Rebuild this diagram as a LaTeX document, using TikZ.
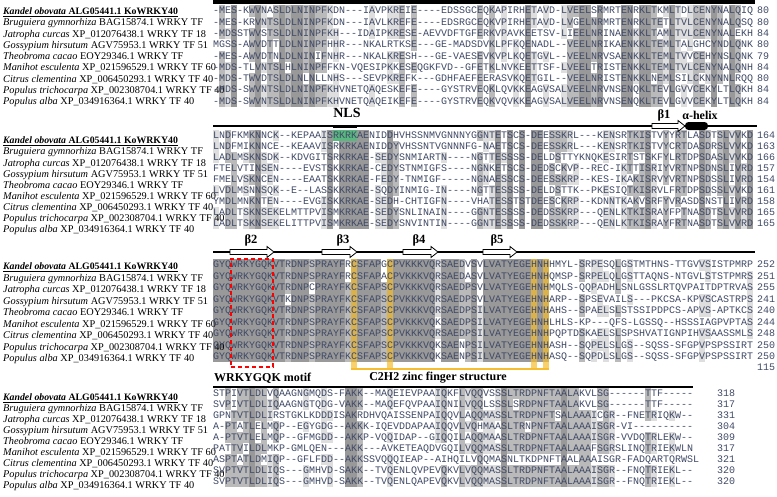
\documentclass[tikz,border=0pt]{standalone}
\usepackage{fontspec}
\setmainfont{Liberation Serif}
\newfontfamily\seqfont{Liberation Mono}[Ligatures=TeXOff]
\usetikzlibrary{positioning}

\definecolor{residue}{rgb}{0.25,0.29,0.40}
\definecolor{nlsgreen}{rgb}{0.35,0.72,0.50}
\definecolor{zincyellow}{rgb}{0.97,0.74,0.18}

\tikzset{
    %Define shading for conserved residues
    consfull/.style={fill=black!40},
    conshigh/.style={fill=black!27},
    conslow/.style={fill=black!13},
    %Define style for alignment text
    seqtext/.style={
           anchor=west,
           inner sep=0pt,
           text height=5.7pt,
           text depth=0pt,
           font=\seqfont\fontsize{10}{10}\selectfont,
           text=residue},
    species/.style={
           anchor=west,
           inner sep=0pt,
           text height=6.8pt,
           text depth=0pt,
           font=\fontsize{10.3}{11}\selectfont},
    kandel/.style={species, font=\fontsize{9.8}{11}\selectfont},
    featlabel/.style={
           inner sep=0pt,
           font=\bfseries\fontsize{12.5}{13}\selectfont},
    % Define styles for the secondary structure track
    rule/.style={line width=1.2pt},
    betashape/.style={draw=black, fill=white, line width=0.8pt},
    helix/.style={
           fill=black,
           rounded corners=3.5pt,
           minimum width=23pt,
           minimum height=8pt,
           inner sep=0pt},
    motifbox/.style={draw=red, line width=1.2pt, dash pattern=on 4pt off 3pt},
    zincband/.style={fill=zincyellow, fill opacity=0.7},
    zincline/.style={draw=zincyellow, line width=1.2pt}
}

% one shaded cell of the alignment
\newcommand\alcell[4]{\fill[#1] (#2pt,#3pt) rectangle ++(6pt,#4pt);}
% white block arrow for a beta strand: tail point, length in pt
\newcommand\betaarrow[2]{%
  \draw[betashape] (#1) ++(0,2.5pt) -- ++(#2pt-7pt,0) -- ++(0,3pt) -- ++(7pt,-5.5pt)
     -- ++(-7pt,-5.5pt) -- ++(0,3pt) -- ++(-#2pt+7pt,0) -- cycle;}

\ExplSyntaxOn
\int_new:N \l__al_n_int
\tl_new:N \l__al_c_tl
\tl_new:N \l__al_col_tl
\NewDocumentCommand \alrow { m m m } { \str_gset:cn { g__al_#1_#2_str } {#3} }
\NewDocumentCommand \alget { m m } { \str_use:c { g__al_#1_#2_str } }
% shade block #1 with #2 columns, top of first row #3, row pitch #4
\NewDocumentCommand \alshade { m m m m }
 {
  \int_step_variable:nNn {#2} \l__al_j_tl
   {
    \int_step_variable:nNn {9} \l__al_i_tl
     {
      \tl_set:Nx \l__al_c_tl
        { \exp_args:Nc \str_item:Nn { g__al_#1_\l__al_i_tl _str } { \l__al_j_tl } }
      \str_if_eq:eeF { \l__al_c_tl } { - }
       {
        \int_zero:N \l__al_n_int
        \int_step_variable:nNn {9} \l__al_k_tl
         {
          \str_if_eq:eeT
            { \exp_args:Nc \str_item:Nn { g__al_#1_\l__al_k_tl _str } { \l__al_j_tl } }
            { \l__al_c_tl }
            { \int_incr:N \l__al_n_int }
         }
        \tl_clear:N \l__al_col_tl
        \int_compare:nNnT { \l__al_n_int } > { 4 } { \tl_set:Nn \l__al_col_tl { conslow } }
        \int_compare:nNnT { \l__al_n_int } > { 6 } { \tl_set:Nn \l__al_col_tl { conshigh } }
        \int_compare:nNnT { \l__al_n_int } = { 9 } { \tl_set:Nn \l__al_col_tl { consfull } }
        \tl_if_empty:NF \l__al_col_tl
         {
          \use:e
           {
            \exp_not:N \alcell { \l__al_col_tl }
             { \fp_eval:n { 213 + (\l__al_j_tl - 1) * 6 } }
             { \fp_eval:n { -(#3 + (\l__al_i_tl - 1) * #4) } }
             { \fp_eval:n { -(#4) } }
           }
         }
       }
     }
   }
 }
\ExplSyntaxOff

% alignment, block 1
\alrow{1}{1}{-MES-KWVNASLDLNINPFKDN---IAVPKREIE----EDSSGCEQKAPIRHETAVD-LVEELSRMRTENRKLTKMLTDLCENYNALQIQ}
\alrow{1}{2}{-MES-KRVNTSLDLNINPFKDN---IAVLKREFE----EDSRGCEQKVPIRHETAVD-LVGELNRMRTENRKLTETLTVLCENYNALQSQ}
\alrow{1}{3}{-MDSSTWVSTSLDLNINPFKH---IDAIPKRESE-AEVVDFTGFERKVPAVKEETSV-LIEELNRINAENKKLTAMLTVLCENYNALEKH}
\alrow{1}{4}{MGSS-AWVDTTLDLNINPFHHR---NKALRTKSE---GE-MADSDVKLPFKQENADL--VEELNRIKAENKKLTEMLTALGHCYNDLQNK}
\alrow{1}{5}{-MES-AWVDTNLDLNINIFNHR---NKALKRESH---GE-VAESEVKVPLKQETGVL--VEELNRVSAENKKLTEMLTVVCEHYNSLQNK}
\alrow{1}{6}{-MDS-TLVNTSLHLNINPFFKN-VQESIPKKESEQGKFVD--GFETKLNVKEETTSF-LVEELTRISTENKKLTEMLTVLCENYNALQNH}
\alrow{1}{7}{-MDS-TWVDTSLDLNLNLLNHS---SEVPKREFK---GDHFAEFEERASVKQETGIL--VEELNRISTENKKLNEMLSILCKNYNNLRQQ}
\alrow{1}{8}{-MDS-SWVNTSLDLNINPFKHVNETQAQESKEFE----GYSTRVEQKLQVKKEAGVSALVEELNRVNSENQKLTEVLGVVCEKYLTLQKH}
\alrow{1}{9}{-MDS-SWVNTSLDLNINPFKHVNETQAQEIKEFE----GYSTRVEQKVQVKKEAGVSALVEELNRVNSENQKLTEVLGVVCEKYLTLQKH}
% block 2
\alrow{2}{1}{LNDFKMKNNCK--KEPAAISRKRKAENIDDHVHSSNMVGNNNYGGNTETSCS-DEESSKRL---KENSRTKISTVYYRTLASDTSLVVKD}
\alrow{2}{2}{LNDFMIKNNCE--KEAAVISRKRKAENIDDYVHSSNTVGNNNFG-NAETSCS-DEESSKRL---KENSRTKISTVYCRTDASDRSLVVKD}
\alrow{2}{3}{LADLMSKNSDK--KDVGITSRKRKAE-SEDYSNMIARTN----NGTTESSSS-DELDSTTYKNQKESIRTSTSKFYLRTDPSDASLVVKD}
\alrow{2}{4}{FTELVTINSEN----EVSTSKKRKAE-CEDYSTNMIGFS----NGNKETSCS-DEDSCKVP--REC-IKTTISRIYVRTNPSDNSLIVRD}
\alrow{2}{5}{FMELVSKNCEN----EAATSKKRKAE-FEDY-TNMIGF-----NGNAESSCS-DEESSKRP--KES-IKAKISRVYVRTNPSDSSLIVRD}
\alrow{2}{6}{LVDLMSNNSQK--E--LASSKKRKAE-SQDYINMIG-IN----NGTTESSSS-DELDSTTK--PKESIQTKISRVLFRTDPSDSSLVVKD}
\alrow{2}{7}{YMDLMNKNTEN----EVGISKKRKAE-SEDH-CHTIGFN----VHATESSTSTDEESCKRP--KDNNTKAKVSRFYVRASDSNSTLIVRD}
\alrow{2}{8}{LADLTSKNSEKELMTTPVISMKRKAE-SEDYSNLINAIN----GGNTESSSS-DEDSSKRP---QENLKTKISRAYFPTNASDTSLVVRD}
\alrow{2}{9}{LADLTSKNSEKELITTPVISMKRKAE-SEDYSNVINTIN----GGNTESSSS-DEDSSKRP---QENLKTKISRAYFRTNASDTSLVVRD}
% block 3
\alrow{3}{1}{GYQWRKYGQKVTRDNPSPRAYFRCSFAPGCPVKKKVQRSAEDVSVLVATYEGEHNHHMYL-SRPESQLGSTMTHNS-TTGVVSISTPMRP}
\alrow{3}{2}{GYQWRKYGQKVTRDNPSPRAYFRCSFAPACPVKKKVQRSAEDASVLVATYEGEHNHQMSP-SRPELQLGSTTAQNS-NTGVLSTSTPMRS}
\alrow{3}{3}{GYQWRKYGQKVTRDNPCPRAYFKCSFAPSCPVKKKVQRSAEDPSVLVATYEGEHNHMQLS-QQPADHLSNLGSSLRTQVPAITDPTRVAS}
\alrow{3}{4}{GYQWRKYGQKVTKDNPSPRAYFKCSFAPSCPVKKKVQRSAEDPSVLVATYEGEHNHARP--SPSEVAILS---PKCSA-KPVSCASTRPS}
\alrow{3}{5}{GYQWRKYGQKVTRDNPSPRAYFKCSFAPSCPVKKKVQRSAEDPSILVATYEGEHNHAHS--SPAELSLSTSSIPDPCS-APVS-APTKCS}
\alrow{3}{6}{GYQWRKYGQKVTRDNPSPRAYFKCSFAPSCPVKKKVQKSAEDPSILVATYEGEHNHLHLS-KP---QFS-LGSSQ--HSSSIAGPVPTAS}
\alrow{3}{7}{GYQWRKYGQKVTRDNPSPRAYFKCSFAPSCPVKKKVQRSAEDPSILVATYEGEHNHPQPTDSKAELSLSPSHVATIGNPIHVSAASSMLS}
\alrow{3}{8}{GYQWRKYGQKVTRDNPSPRAYFKCSFAPSCPVKKKVQKSAENPSILVATYEGEHNHASH--SQPELSLGS--SQSS-SFGPVPSPSSIRT}
\alrow{3}{9}{GYQWRKYGQKVTRDNPSPRAYFKCSFAPSCPVKKKVQKSAENPSILVATYEGEHNHASQ--SQPDLSLGS--SQSS-SFGPVPSPSSIRT}
% block 4
\alrow{4}{1}{STPIVTLDLVQAAGNGMQDS-FAKK--MAQEIEVPAAIQKFLVQQVSSSLTRDPNFTAALAKVLSG------TTF-----}
\alrow{4}{2}{SVPIVTLDLIQAAGNGTQDG-VAKK--MAQEFQVPAAIQNILVQQLSSSLSRDPNFTAALAKVLSG------TTF-----}
\alrow{4}{3}{GPNTVTLDLIRSTGKLKDDDISAKRDHVQAISSENPAIQQVLAQQMASSLTRDPNFTSALAAAICGR--FNETRIQKW--}
\alrow{4}{4}{A-PTATLELMQP--EGYGDG--AKKK-IQEVDDAPAAIQQVLVQHMAASLTRNPNFTAALAAAISGR-VI----------}
\alrow{4}{5}{A-PTVTLELMQP--GFMGDD--AKKP-VQQIDAP--GIQQILAQQMAASLTRDPNFTAALAAAISGR-VVDQTRLEKW--}
\alrow{4}{6}{PATTVILDLMKP-GMLQEN---AKK---AVKETEAQDVGQILVQQMASSLTRDPNFTAALAAAFSGRSLINQTRIEKWLN}
\alrow{4}{7}{ASPTATLDMIQP--GFLFDD--AKKSSVQQQIEAP--AIHQILVQQMASNLTKDPNFTAALAAAISGR-FADQARTQRWSL}
\alrow{4}{8}{SVPTVTLDLIQS---GMHVD-SAKK--TVQENLQVPEVQKVLVQQMASSLTRDPNFTAALAAAISGR--FNQTRIEKL--}
\alrow{4}{9}{SVPTVTLDLIQS---GMHVD-SAKK--TVQENLQAPEVQKVLVQQMASSLTRDPNFTAALAAAISGR--FNQTRIEKL--}

\begin{document}
\begin{tikzpicture}
\useasboundingbox (0,0) rectangle (777pt,-496pt);

% conservation shading
\foreach \blk/\yc/\dy/\ncol in {1/11/11.3/90, 2/135.5/11.05/90, 3/265/11.45/90, 4/393.5/11/80}
  \alshade{\blk}{\ncol}{\yc-\dy/2}{\dy};

% NLS residues and zinc finger columns
\fill[nlsgreen] (333pt,-130pt) rectangle (357pt,-141pt);
\foreach \xc in {351,387,531,543}
  \fill[zincband] (\xc pt,-259.3pt) rectangle ++(6pt,-109.7pt);

% species names, residues and positions
\foreach \blk/\yc/\dy/\off/\xn/\nums in {
    1/11/11.3/0/757/{80,80,84,80,79,84,80,84,84},
    2/135.5/11.05/5/757/{164,163,166,157,154,161,158,165,165},
    3/265/11.45/1.5/757/{252,251,255,241,240,244,248,250,250},
    4/393.5/11/4/717/{318,317,331,304,309,317,321,320,320}}
{
  \node[kandel] (sp\blk-1) at (3pt,{-(\yc+\off)*1pt})
      {\underline{\textbf{\textit{Kandel obovata} ALG05441.1 KoWRKY40}}};
  \foreach \lbl [count=\rw from 2] in {
      {\textit{Bruguiera gymnorhiza} BAG15874.1 WRKY TF},
      {\textit{Jatropha curcas} XP\_012076438.1 WRKY TF 18},
      {\textit{Gossypium hirsutum} AGV75953.1 WRKY TF 51},
      {\textit{Theobroma cacao} EOY29346.1 WRKY TF},
      {\textit{Manihot esculenta} XP\_021596529.1 WRKY TF 60},
      {\textit{Citrus clementina} XP\_006450293.1 WRKY TF 40},
      {\textit{Populus trichocarpa} XP\_002308704.1 WRKY TF 40},
      {\textit{Populus alba} XP\_034916364.1 WRKY TF 40}}
    \node[species] (sp\blk-\rw) at (3pt,{-(\yc+\off+(\rw-1)*\dy)*1pt}) {\lbl};
  \foreach \rw in {1,...,9}
    \node[seqtext] (sq\blk-\rw) at (213pt,{-(\yc+(\rw-1)*\dy)*1pt}) {\alget{\blk}{\rw}};
  \foreach \nm [count=\rw] in \nums
    \node[seqtext] (nm\blk-\rw) at (\xn pt,{-(\yc+(\rw-1)*\dy)*1pt}) {\nm};
}
\node[seqtext] (nm3-10) at (757pt,-368pt) {115};

% top rule
\coordinate (top0) at (213pt,-1.75pt);
\coordinate (top1) at (755pt,-1.75pt);
\draw[line width=3.5pt] (top0) -- (top1);

% secondary structure track 1
\coordinate (t1a) at (213pt,-126pt);
\coordinate (t1b) at (757pt,-126pt);
\draw[rule] (t1a) -- (t1b);
\coordinate (nls0) at (333pt,-126.5pt);
\coordinate (nls1) at (357pt,-126.5pt);
\draw[line width=3.5pt] (nls0) -- (nls1);
\node[featlabel, font=\bfseries\fontsize{14}{14}\selectfont] (nls) at (347pt,-113pt) {NLS};
\coordinate (b1) at (652pt,-126pt);
\betaarrow{b1}{33}
\node[featlabel] (lb1) at (664pt,-115pt) {β1};
\node[helix] (ah) at (696.5pt,-126pt) {};
\node[featlabel, font=\bfseries\fontsize{12}{12}\selectfont] (lah) at (700pt,-115pt) {α-helix};

% secondary structure track 2
\coordinate (t2a) at (213pt,-252pt);
\coordinate (t2b) at (755pt,-252pt);
\draw[rule] (t2a) -- (t2b);
\foreach \nb/\xa/\len/\xl in {2/230/44/251, 3/322/35/343, 4/403/35/419, 5/483/34/497}
{
  \coordinate (b\nb) at (\xa pt,-252pt);
  \betaarrow{b\nb}{\len}
  \node[featlabel] (lb\nb) at (\xl pt,-240pt) {β\nb};
}

% WRKYGQK motif and zinc finger
\node[motifbox, minimum width=42pt, minimum height=108pt, inner sep=0pt] (motif) at (252pt,-313pt) {};
\node[featlabel, font=\bfseries\fontsize{12}{12}\selectfont, anchor=west] (lmotif) at (214pt,-378pt) {WRKYGQK motif};
\coordinate (zf0) at (351pt,-369pt);
\coordinate (zf1) at (549pt,-369pt);
\draw[zincline] (zf0) -- (zf1);
\node[featlabel, font=\bfseries\fontsize{12}{12}\selectfont] (lzinc) at (438pt,-378pt) {C2H2 zinc finger structure};

% rule above block 4
\coordinate (t4a) at (213pt,-387pt);
\coordinate (t4b) at (693pt,-387pt);
\draw[rule] (t4a) -- (t4b);
\end{tikzpicture}
\end{document}
